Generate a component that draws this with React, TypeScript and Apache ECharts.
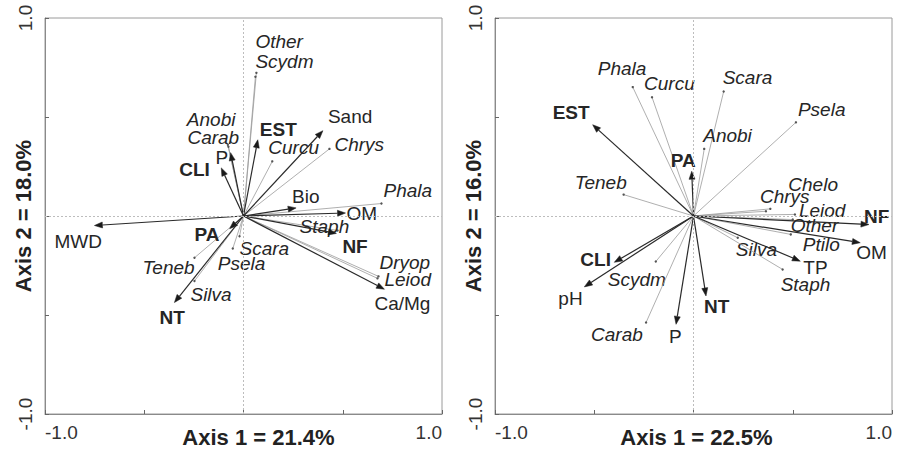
import React, { useEffect, useRef } from "react";
import * as echarts from "echarts";

const FONT = '"Liberation Sans", Arial, Helvetica, sans-serif';

// ---------- Left panel (Axis 1 = 21.4%, Axis 2 = 18.0%) ----------
const leftSpecies = ["Other", "Scydm", "Chrys", "Curcu", "Anobi", "Carab", "Phala", "Staph", "Scara", "Psela", "Teneb", "Silva", "Dryop", "Leiod"];
const leftSpeciesAx1 = [0.065, 0.06, 0.433, 0.145, -0.079, -0.076, 0.695, 0.474, -0.02, -0.054, -0.247, -0.247, 0.68, 0.675];
const leftSpeciesAx2 = [0.723, 0.703, 0.339, 0.276, 0.36, 0.35, 0.063, -0.073, -0.102, -0.164, -0.211, -0.328, -0.305, -0.315];
const leftEnv = ["Sand", "EST", "P", "CLI", "Bio", "OM", "MWD", "NF", "PA", "NT", "Ca/Mg"];
const leftEnvAx1 = [0.4, 0.072, -0.065, -0.112, 0.265, 0.514, -0.751, 0.468, -0.07, -0.348, 0.71];
const leftEnvAx2 = [0.431, 0.385, 0.32, 0.243, 0.041, 0.015, -0.048, -0.088, -0.064, -0.437, -0.37];

// ---------- Right panel (Axis 1 = 22.5%, Axis 2 = 16.0%) ----------
const rightSpecies = ["Phala", "Curcu", "Scara", "Psela", "Anobi", "Teneb", "Chelo", "Chrys", "Leiod", "Other", "Ptilo", "Silva", "Staph", "Scydm", "Carab"];
const rightSpeciesAx1 = [-0.306, -0.209, 0.152, 0.516, 0.054, -0.352, 0.387, 0.365, 0.511, 0.5, 0.49, 0.223, 0.449, -0.19, -0.239];
const rightSpeciesAx2 = [0.651, 0.6, 0.629, 0.473, 0.339, 0.108, 0.036, 0.024, 0.008, -0.018, -0.093, -0.11, -0.27, -0.23, -0.538];
const rightEnv = ["EST", "PA", "NF", "OM", "TP", "CLI", "pH", "P", "NT"];
const rightEnvAx1 = [-0.508, -0.009, 0.884, 0.84, 0.538, -0.399, -0.55, -0.088, 0.063];
const rightEnvAx2 = [0.461, 0.226, -0.043, -0.135, -0.228, -0.234, -0.358, -0.547, -0.404];

const boldVars = ["CLI", "EST", "PA", "NT", "NF"];
const tickLabels = ["-1.0", "1.0"];
const axisTitles = ["Axis 1 = 21.4%", "Axis 2 = 18.0%", "Axis 1 = 22.5%", "Axis 2 = 16.0%"];

// ---------- Layout: label offsets (px) from arrow tip to label's left-middle ----------
const leftSpeciesLabelOffset: Record<string, [number, number]> = {
  Other: [-1, -31], Scydm: [0, -15], Chrys: [5, -4], Curcu: [-4, -14], Anobi: [-41, -25], Carab: [-41, -9],
  Phala: [2, -13], Staph: [-38, -4], Scara: [0, 12], Psela: [-15, 15], Teneb: [-52, 10], Silva: [-4, 14],
  Dryop: [1, -14], Leiod: [7, 1],
};
const leftEnvLabelOffset: Record<string, [number, number]> = {
  Sand: [5, -14], EST: [2, -10], P: [-15, 5], CLI: [-42, 2], Bio: [-4, -11], OM: [1, 0], MWD: [-40, 16],
  NF: [6, 13], PA: [-35, 6], NT: [-15, 15], "Ca/Mg": [-10, 14],
};
const rightSpeciesLabelOffset: Record<string, [number, number]> = {
  Phala: [-35, -19], Curcu: [-8, -14], Scara: [-1, -14], Psela: [2, -13], Anobi: [-1, -13], Teneb: [-49, -12],
  Chelo: [18, -24], Chrys: [-6, -15], Leiod: [4, -4], Other: [-2, 6], Ptilo: [12, 10], Silva: [-2, 12],
  Staph: [-2, 15], Scydm: [-48, 18], Carab: [-55, 12],
};
const rightEnvLabelOffset: Record<string, [number, number]> = {
  EST: [-40, -12], PA: [-21, -11], NF: [-5, -8], OM: [-4, 10], TP: [3, 6], CLI: [-34, -3], pH: [-26, 12],
  P: [-7, 12], NT: [-2, 11],
};

type Item = { name: string; x: number; y: number; env: boolean; bold: boolean; dx: number; dy: number };

function buildItems(names: string[], ax1: number[], ax2: number[], env: boolean, offs: Record<string, [number, number]>): Item[] {
  return names.map((n, i) => ({
    name: n,
    x: ax1[i],
    y: ax2[i],
    env,
    bold: boldVars.indexOf(n) >= 0,
    dx: (offs[n] || [4, 0])[0],
    dy: (offs[n] || [4, 0])[1],
  }));
}

function makeSeries(items: Item[], gridIndex: number, withZeroLines: boolean): any {
  const s: any = {
    type: "custom",
    coordinateSystem: "cartesian2d",
    xAxisIndex: gridIndex,
    yAxisIndex: gridIndex,
    clip: false,
    silent: true,
    data: items.map((it) => [it.x, it.y]),
    renderItem: (params: any, api: any) => {
      const it = items[params.dataIndex];
      const p0 = api.coord([0, 0]);
      const p1 = api.coord([api.value(0), api.value(1)]);
      const vx = p1[0] - p0[0];
      const vy = p1[1] - p0[1];
      const L = Math.sqrt(vx * vx + vy * vy) || 1;
      const ux = vx / L;
      const uy = vy / L;
      const children: any[] = [];
      if (it.env) {
        const hl = 8;
        const hw = 3;
        const bx = p1[0] - ux * hl;
        const by = p1[1] - uy * hl;
        children.push({
          type: "line",
          shape: { x1: p0[0], y1: p0[1], x2: bx, y2: by },
          style: { stroke: "#2a2a2a", lineWidth: 1.2 },
        });
        children.push({
          type: "polygon",
          shape: {
            points: [
              [p1[0], p1[1]],
              [bx - uy * hw, by + ux * hw],
              [bx + uy * hw, by - ux * hw],
            ],
          },
          style: { fill: "#1a1a1a", stroke: "#1a1a1a", lineWidth: 0.5 },
        });
      } else {
        children.push({
          type: "line",
          shape: { x1: p0[0], y1: p0[1], x2: p1[0], y2: p1[1] },
          style: { stroke: "#9a9a9a", lineWidth: 0.8 },
        });
        children.push({
          type: "circle",
          shape: { cx: p1[0], cy: p1[1], r: 1.2 },
          style: { fill: "#555" },
        });
      }
      children.push({
        type: "text",
        x: p1[0] + it.dx,
        y: p1[1] + it.dy,
        style: {
          text: it.name,
          fill: "#262626",
          fontSize: 19,
          fontFamily: FONT,
          fontStyle: it.env ? "normal" : "italic",
          fontWeight: it.bold ? "bold" : "normal",
          align: "left",
          verticalAlign: "middle",
        },
      });
      return { type: "group", children };
    },
  };
  if (withZeroLines) {
    s.markLine = {
      silent: true,
      symbol: ["none", "none"],
      label: { show: false },
      lineStyle: { color: "#bdbdbd", type: [2, 2], width: 1 },
      data: [{ xAxis: 0 }, { yAxis: 0 }],
      animation: false,
    };
  }
  return s;
}

function tickFormatter(v: number) {
  if (Math.abs(v + 1) < 1e-9) return tickLabels[0];
  if (Math.abs(v - 1) < 1e-9) return tickLabels[1];
  return "";
}

function xAxisCfg(gridIndex: number, name: string, pad: number): any {
  return {
    type: "value",
    gridIndex,
    min: -1,
    max: 1,
    interval: 0.5,
    name,
    nameLocation: "middle",
    nameGap: 12,
    nameMoveOverlap: false,
    nameTextStyle: { fontSize: 22, fontWeight: "bold", color: "#222", fontFamily: FONT, padding: [0, 0, 0, pad] },
    axisLine: { show: true, onZero: false, lineStyle: { color: "#8a8a8a", width: 1 } },
    axisTick: { show: true, inside: true, length: 4, lineStyle: { color: "#666" } },
    axisLabel: {
      formatter: tickFormatter,
      fontSize: 19,
      color: "#333",
      fontFamily: FONT,
      margin: 9,
      showMinLabel: true,
      showMaxLabel: true,
      alignMinLabel: "left",
      alignMaxLabel: "right",
    },
    splitLine: { show: false },
  };
}

function yAxisCfg(gridIndex: number, name: string): any {
  return {
    type: "value",
    gridIndex,
    min: -1,
    max: 1,
    interval: 0.5,
    name,
    nameLocation: "middle",
    nameRotate: 90,
    nameGap: 11,
    nameMoveOverlap: false,
    nameTextStyle: { fontSize: 22, fontWeight: "bold", color: "#222", fontFamily: FONT },
    axisLine: { show: true, onZero: false, lineStyle: { color: "#8a8a8a", width: 1 } },
    axisTick: { show: true, inside: true, length: 4, lineStyle: { color: "#666" } },
    axisLabel: {
      formatter: tickFormatter,
      rotate: 90,
      fontSize: 19,
      color: "#333",
      fontFamily: FONT,
      margin: 10,
      showMinLabel: true,
      showMaxLabel: true,
    },
    splitLine: { show: false },
  };
}

export default function App() {
  const ref = useRef<HTMLDivElement>(null);
  useEffect(() => {
    document.body.style.margin = "0";
    if (!ref.current) return;
    const chart = echarts.init(ref.current, undefined, { renderer: "svg" });
    const leftSp = buildItems(leftSpecies, leftSpeciesAx1, leftSpeciesAx2, false, leftSpeciesLabelOffset);
    const leftEv = buildItems(leftEnv, leftEnvAx1, leftEnvAx2, true, leftEnvLabelOffset);
    const rightSp = buildItems(rightSpecies, rightSpeciesAx1, rightSpeciesAx2, false, rightSpeciesLabelOffset);
    const rightEv = buildItems(rightEnv, rightEnvAx1, rightEnvAx2, true, rightEnvLabelOffset);
    const gridBase = {
      top: 18,
      width: 397,
      height: 396,
      show: true,
      borderColor: "#9a9a9a",
      borderWidth: 1,
      backgroundColor: "transparent",
      containLabel: false,
      outerBoundsMode: "none",
    };
    chart.setOption({
      animation: false,
      backgroundColor: "#ffffff",
      grid: [
        { ...gridBase, left: 45 },
        { ...gridBase, left: 495 },
      ],
      xAxis: [xAxisCfg(0, axisTitles[0], 30), xAxisCfg(1, axisTitles[2], 6)],
      yAxis: [yAxisCfg(0, axisTitles[1]), yAxisCfg(1, axisTitles[3])],
      series: [
        makeSeries(leftSp, 0, true),
        makeSeries(leftEv, 0, false),
        makeSeries(rightSp, 1, true),
        makeSeries(rightEv, 1, false),
      ],
    });
    return () => chart.dispose();
  }, []);
  return <div ref={ref} style={{ position: "absolute", left: 0, top: 0, width: 897, height: 452 }} />;
}
